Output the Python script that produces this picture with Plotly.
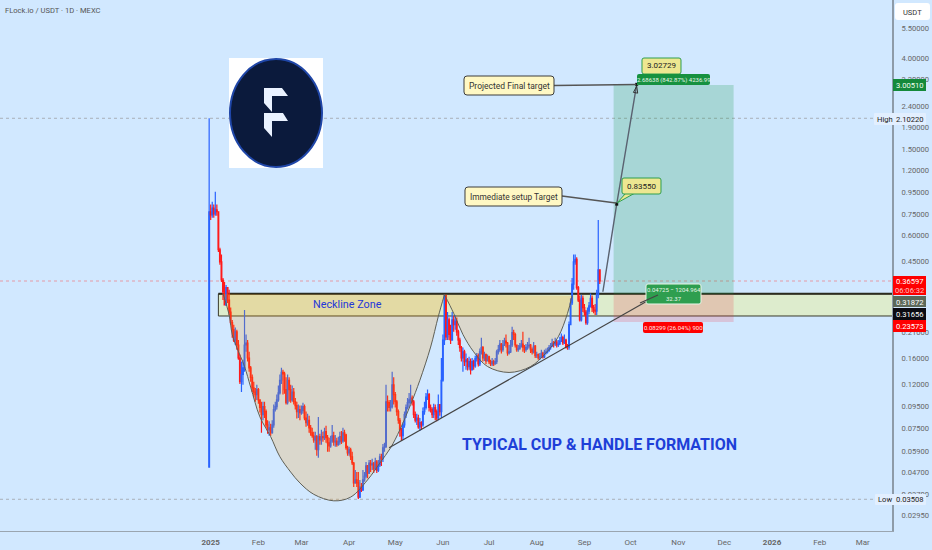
import datetime as dt
import plotly.graph_objects as go

W, H = 932, 550
PLOT_W, PLOT_H = 892, 531
BG = "#D1E8FF"

START_DATE = dt.date(2024, 12, 31)
CLOSES = [
 .770,.745,.800,.753,.785,.770,.512,.449,.370,.326,
 .283,.341,.298,.262,.234,.217,.194,.212,.184,.160,
 .124,.134,.144,.184,.188,.160,.144,.130,.116,.111,
 .108,.114,.102,.094,.087,.095,.090,.078,.074,.0756,
 .0717,.078,.092,.095,.102,.110,.126,.137,.135,.114,
 .099,.126,.114,.102,.111,.100,.096,.090,.092,.089,
 .091,.095,.084,.080,.082,.0756,.0717,.0694,.0663,.0687,
 .0597,.0687,.0663,.0687,.068,.0725,.068,.0643,.0623,.0656,
 .0694,.065,.0656,.063,.065,.0687,.0656,.0717,.070,.061,
 .0578,.0597,.0554,.0518,.0418,.0432,.0418,.0359,.040,.0387,
 .0432,.045,.0502,.0465,.0518,.0507,.0513,.0486,.0524,.048,
 .0507,.0554,.0542,.061,.0616,.100,.099,.094,.095,.120,
 .108,.100,.090,.082,.074,.0694,.078,.087,.094,.099,
 .102,.104,.100,.087,.082,.084,.0764,.080,.078,.090,
 .094,.105,.108,.094,.092,.087,.094,.090,.084,.097,
 .090,.126,.194,.313,.201,.241,.206,.194,.241,.229,
 .237,.212,.194,.179,.160,.171,.154,.157,.146,.154,
 .141,.154,.147,.159,.164,.150,.171,.179,.160,.166,
 .155,.162,.154,.150,.154,.150,.154,.171,.175,.186,
 .175,.184,.192,.188,.169,.171,.184,.210,.206,.184,
 .175,.177,.182,.186,.180,.175,.179,.182,.184,.175,
 .171,.182,.164,.166,.160,.162,.168,.162,.169,.171,
 .173,.179,.182,.188,.186,.190,.184,.186,.192,.199,
 .188,.194,.180,.180,.229,.289,.354,.449,.462,.341,
 .298,.241,.304,.275,.262,.234,.265,.280,.304,.275,
 .268,.265,.316,.413,.366]
HIGHS = [
 2.102,.833,.858,.833,.955,.833,.770,.523,.486,.378,
 .362,.351,.341,.333,.275,.241,.229,.222,.217,.194,
 .166,.154,.157,.268,.206,.194,.171,.147,.134,.124,
 .116,.120,.116,.102,.100,.100,.100,.092,.082,.081,
 .079,.082,.097,.100,.108,.119,.134,.144,.141,.138,
 .130,.134,.130,.120,.119,.116,.104,.100,.097,.096,
 .096,.099,.097,.090,.088,.086,.078,.0756,.0725,.0725,
 .070,.085,.0709,.074,.0725,.0756,.0772,.070,.068,.0694,
 .078,.0725,.070,.068,.0687,.0725,.073,.0756,.074,.0709,
 .0623,.0616,.061,.0585,.0524,.048,.047,.047,.0432,.0418,
 .048,.047,.0524,.0507,.0535,.0535,.0542,.0524,.0548,.0535,
 .0535,.0572,.0572,.0636,.0643,.120,.107,.102,.102,.138,
 .130,.111,.102,.092,.084,.0756,.080,.090,.097,.104,
 .110,.120,.107,.102,.090,.088,.087,.084,.081,.094,
 .100,.110,.114,.110,.097,.094,.098,.097,.092,.108,
 .097,.160,.206,.316,.316,.262,.247,.229,.262,.252,
 .254,.247,.217,.199,.182,.179,.175,.168,.160,.162,
 .159,.160,.157,.164,.169,.168,.177,.199,.182,.171,
 .168,.166,.164,.157,.160,.157,.160,.175,.184,.194,
 .188,.194,.199,.206,.190,.184,.194,.224,.217,.210,
 .184,.184,.188,.194,.212,.184,.186,.190,.199,.186,
 .179,.190,.184,.171,.168,.169,.175,.171,.175,.177,
 .179,.184,.188,.197,.192,.199,.194,.194,.201,.208,
 .203,.206,.197,.186,.237,.304,.378,.486,.486,.472,
 .347,.313,.316,.313,.286,.268,.275,.292,.320,.313,
 .283,.286,.333,.705,.413]
LOWS = [
 .0496,.705,.722,.722,.737,.737,.500,.436,.362,.298,
 .283,.280,.289,.254,.229,.199,.190,.184,.175,.157,
 .121,.111,.120,.138,.171,.154,.138,.124,.111,.105,
 .100,.102,.098,.089,.0717,.082,.084,.0756,.0709,.0694,
 .0694,.0709,.0756,.090,.092,.100,.108,.121,.108,.109,
 .097,.097,.100,.099,.100,.097,.092,.0835,.084,.082,
 .087,.088,.082,.0764,.0772,.0717,.0694,.068,.0643,.0597,
 .056,.0548,.063,.063,.065,.0663,.0643,.0585,.0585,.061,
 .0643,.0623,.0616,.0616,.0623,.063,.0636,.0643,.065,.0597,
 .056,.056,.0535,.0507,.040,.0414,.040,.0352,.0356,.0379,
 .0387,.0423,.044,.044,.046,.047,.048,.0465,.048,.0465,
 .047,.0496,.0502,.0524,.0585,.061,.090,.090,.090,.093,
 .097,.094,.086,.079,.0687,.0656,.0663,.0756,.084,.092,
 .094,.098,.096,.084,.080,.078,.0748,.073,.074,.0764,
 .087,.092,.102,.090,.089,.084,.084,.082,.081,.082,
 .086,.084,.124,.184,.194,.194,.194,.186,.199,.212,
 .217,.203,.184,.171,.154,.138,.147,.141,.140,.141,
 .134,.144,.141,.144,.154,.146,.147,.166,.154,.155,
 .150,.154,.150,.147,.147,.147,.149,.150,.166,.171,
 .168,.171,.182,.179,.164,.166,.169,.180,.194,.179,
 .171,.171,.175,.179,.171,.169,.171,.175,.177,.169,
 .166,.168,.160,.160,.157,.157,.160,.159,.160,.166,
 .168,.171,.175,.180,.179,.182,.179,.180,.184,.190,
 .184,.186,.177,.175,.175,.229,.283,.333,.436,.333,
 .292,.237,.237,.262,.252,.229,.229,.256,.275,.262,
 .259,.254,.254,.304,.354]
FIRST_OPEN = 0.0496

CUP_DATES = ["2025-01-09","2025-01-13","2025-01-15","2025-01-18","2025-01-23","2025-01-27","2025-02-02","2025-02-09",
             "2025-02-15","2025-02-22","2025-02-28","2025-03-09","2025-03-22","2025-04-02","2025-04-13","2025-04-21",
             "2025-04-28","2025-05-04","2025-05-11","2025-05-17","2025-05-24","2025-05-29","2025-06-02"]
CUP_VALUES = [.319,.254,.206,.179,.146,.117,.085,.0687,.0554,.047,.0418,.037,.0345,.0359,.0432,.0518,.061,.074,.097,.126,.180,.250,.316]
HANDLE_DATES = ["2025-06-02","2025-06-08","2025-06-14","2025-06-21","2025-06-30","2025-07-14","2025-07-28","2025-08-07","2025-08-15","2025-08-21","2025-08-24"]
HANDLE_VALUES = [.316,.2585,.206,.171,.146,.137,.146,.169,.201,.2585,.3125]
TREND_DATES = ["2025-04-27", "2025-10-19"]
TREND_VALUES = [.061, .316]
PATH_DATES = ["2025-09-13", "2025-09-22", "2025-10-05"]
PATH_VALUES = [.326, .8355, 3.02729]

Y_TICKS = [5.5,4,3.2,2.4,1.9,1.5,1.2,.95,.75,.6,.45,.21,.16,.12,.095,.075,.059,.047,.037,.0295]
X_TICK_DATES = ["2025-01-01","2025-02-01","2025-03-01","2025-04-01","2025-05-01","2025-06-01","2025-07-01","2025-08-01",
                "2025-09-01","2025-10-01","2025-11-01","2025-12-01","2026-01-01","2026-02-01","2026-03-01"]
X_TICK_TEXT = ["<b>2025</b>","Feb","Mar","Apr","May","Jun","Jul","Aug","Sep","Oct","Nov","Dec","<b>2026</b>","Feb","Mar"]

ENTRY, TARGET, STOP = 0.31656, 3.0051, 0.23573
ZONE_START, CHART_END = "2025-01-06", "2026-04-01"
ZONE_TOP, ZONE_BOTTOM = 0.31872, 0.2513
HIGH, LOW, LAST = 2.1022, 0.03508, 0.36597

dates = [(START_DATE + dt.timedelta(days=i)).isoformat() for i in range(len(CLOSES))]
opens = [FIRST_OPEN] + CLOSES[:-1]

FONT = "Roboto"
def px(x): return x / PLOT_W
def py(y): return 1 - y / PLOT_H

def rr(x0, y0, x1, y1, r=2):
    P = lambda a, b: f"{px(a):.5f},{py(b):.5f}"
    return (f"M{P(x0+r,y0)} L{P(x1-r,y0)} Q{P(x1,y0)} {P(x1,y0+r)} L{P(x1,y1-r)} Q{P(x1,y1)} {P(x1-r,y1)} "
            f"L{P(x0+r,y1)} Q{P(x0,y1)} {P(x0,y1-r)} L{P(x0,y0+r)} Q{P(x0,y0)} {P(x0+r,y0)} Z")

def poly(points):
    return "M" + " L".join(f"{px(a):.5f},{py(b):.5f}" for a, b in points) + " Z"

shapes, annos = [], []
def box(x0, y0, x1, y1, fill, line=None, r=2, lw=1, layer="above"):
    shapes.append(dict(type="path", xref="paper", yref="paper", path=rr(x0, y0, x1, y1, r), fillcolor=fill,
                       line=dict(color=line or fill, width=lw if line else 0), layer=layer))
def pg(points, fill, line=None):
    shapes.append(dict(type="path", xref="paper", yref="paper", path=poly(points), fillcolor=fill,
                       line=dict(color=line or fill, width=1 if line else 0), layer="above"))
def seg(x0, y0, x1, y1, color="#555555", w=1.3):
    shapes.append(dict(type="line", xref="paper", yref="paper", x0=px(x0), x1=px(x1), y0=py(y0), y1=py(y1),
                       line=dict(color=color, width=w), layer="above"))
def text(x, y, s, size=9, color="#333333", anchor="center", family=FONT):
    annos.append(dict(xref="paper", yref="paper", x=px(x), y=py(y), text=s, showarrow=False, xanchor=anchor, yanchor="middle",
                      font=dict(size=size, color=color, family=family), borderpad=0, borderwidth=0))

def data_rect(x0, x1, y0, y1, fill, line=None, lw=0):
    shapes.append(dict(type="rect", xref="x", yref="y", x0=x0, x1=x1, y0=y0, y1=y1, fillcolor=fill,
                       line=dict(color=line or fill, width=lw), layer="below"))
def hline(v, color, dash="dot", w=1):
    shapes.append(dict(type="line", xref="paper", yref="y", x0=0, x1=1, y0=v, y1=v, line=dict(color=color, width=w, dash=dash), layer="below"))

hline(HIGH, "#A9AFB8"); hline(LOW, "#A9AFB8"); hline(LAST, "#E59AA6")
data_rect(ZONE_START, CHART_END, ZONE_BOTTOM, ZONE_TOP, "rgba(250,245,90,0.30)", "#3A3A2A", 1)
shapes.append(dict(type="line", xref="x", yref="y", x0=ZONE_START, x1=CHART_END, y0=ZONE_TOP, y1=ZONE_TOP,
                   line=dict(color="#2B2B1E", width=2), layer="below"))
data_rect("2025-09-20", "2025-12-07", ENTRY, TARGET, "rgba(20,150,70,0.22)")
data_rect("2025-09-20", "2025-12-07", STOP, ENTRY, "rgba(242,54,69,0.20)")

fig = go.Figure()
CUP_STYLE = dict(mode="lines", fill="toself", fillcolor="rgba(255,152,0,0.20)", line=dict(color="#5F5F55", width=1, shape="spline"), hoverinfo="skip")
fig.add_trace(go.Scatter(x=CUP_DATES, y=CUP_VALUES, **CUP_STYLE))
fig.add_trace(go.Scatter(x=HANDLE_DATES, y=HANDLE_VALUES, **CUP_STYLE))
fig.add_trace(go.Candlestick(x=dates, open=opens, high=HIGHS, low=LOWS, close=CLOSES,
    increasing=dict(line=dict(color="#2962FF", width=1.2), fillcolor="#2962FF"),
    decreasing=dict(line=dict(color="#FF1A1A", width=1.2), fillcolor="#FF1A1A"), whiskerwidth=0))
fig.add_trace(go.Scatter(x=TREND_DATES, y=TREND_VALUES, mode="lines", line=dict(color="#444444", width=1.2)))
fig.add_trace(go.Scatter(x=PATH_DATES, y=PATH_VALUES, mode="lines", line=dict(color="#5A6270", width=1.4)))
fig.add_trace(go.Scatter(x=PATH_DATES[1:], y=PATH_VALUES[1:], mode="markers", marker=dict(color="#111111", size=3, symbol="square")))
fig.add_trace(go.Scatter(x=PATH_DATES[2:], y=[PATH_VALUES[2] * 0.98], mode="markers",
                         marker=dict(symbol="arrow-open", size=7, angle=10, color="#333333", line=dict(color="#333333", width=1))))

# logo
shapes.append(dict(type="rect", xref="paper", yref="paper", x0=px(229), x1=px(323), y0=py(168), y1=py(58), fillcolor="white", line=dict(width=0), layer="above"))
shapes.append(dict(type="circle", xref="paper", yref="paper", x0=px(230), x1=px(322), y0=py(167), y1=py(59), fillcolor="#0B1A3C", line=dict(color="#1F46A8", width=2), layer="above"))
pg([(264,88),(282,88),(288,96),(272,96),(272,112),(264,103)], "#EAF2FF")
pg([(264,113),(283,113),(288,121),(272,121),(272,137),(264,128)], "#EAF2FF")

# callouts
seg(554, 85.5, 636, 84.5); seg(562, 196, 616, 203)
box(464, 76, 554, 95, "#FFF8C4", "#3C3C3C", 3, 1)
text(509, 86, "Projected Final target", 8.5)
box(465, 187, 562, 206, "#FFF8C4", "#3C3C3C", 3, 1)
text(513.5, 197, "Immediate setup Target", 8.3)
pg([(645,73),(654,73),(637,85)], "#EDE791", "#2E9E4F")
box(642, 58, 681, 74, "#EDE791", "#2E9E4F", 2, 1)
text(661.5, 66, "3.02729", 8, "#222222")
box(637, 74, 710, 85, "#16913F")
text(673.5, 79.5, "2.68638 (842.87%) 4236.99", 6, "#E8F5E8")
pg([(626,193),(635,193),(617,203)], "#EDE791", "#2E9E4F")
box(622, 178, 661, 194, "#EDE791", "#2E9E4F", 2, 1)
text(641.5, 186, "0.83550", 8, "#222222")
box(646, 284, 701, 304, "#2E9E4F", "#E8F5E8", 2, 1)
text(673.5, 289.5, "0.04725 − 1204.964", 6, "#E8F5E8")
text(673.5, 298.5, "32.37", 6, "#E8F5E8")
seg(640, 303, 658, 295, "#444444", 1.2)
box(643, 322, 703, 333, "#FF0000")
text(673, 327.5, "0.08299 (26.04%) 900", 6, "#FFE8E8")

text(5, 11, "FLock.io / USDT · 1D · MEXC", 7.6, "#555555", "left")
text(347.5, 304, "Neckline Zone", 10.8, "#2337D8")
text(599.5, 444, "<b>TYPICAL CUP &amp; HANDLE FORMATION</b>", 16, "#1E3FD8")

# right scale furniture
box(895, 3, 930, 20, "#FFFFFF", None, 3)
text(912.5, 12, "USDT", 7.5, "#333333")
TAG = 7.6
box(893, 79, 926, 91, "#14893A", None, 0)
text(909.5, 85, "3.00510", TAG, "#F0FFF0")
box(874, 113, 926, 125, "#E2EFFF", None, 1)
text(877, 119, "High", TAG, "#222222", "left")
text(909.5, 119, "2.10220", TAG, "#222222")
box(893, 276, 926, 295, "#FF0000", None, 0)
text(909.5, 281, "0.36597", TAG, "#FFFFFF")
text(909.5, 290, "06:06:32", TAG, "#FFC0C0")
box(893, 296, 926, 307, "#5C6858", None, 0)
text(909.5, 302, "0.31872", TAG, "#FFFFFF")
box(893, 308, 926, 320, "#0B0B12", None, 0)
text(909.5, 314, "0.31656", TAG, "#FFFFFF")
box(893, 320, 926, 332, "#FF0000", None, 0)
text(909.5, 326, "0.23573", TAG, "#FFFFFF")
box(875, 494, 926, 505, "#E2EFFF", None, 1)
text(878, 500, "Low", TAG, "#222222", "left")
text(909.5, 500, "0.03508", TAG, "#222222")

fig.update_layout(
    width=W, height=H, margin=dict(l=0, r=W - PLOT_W, t=0, b=H - PLOT_H, pad=0, autoexpand=False),
    paper_bgcolor=BG, plot_bgcolor=BG, showlegend=False, shapes=shapes, annotations=annos,
    font=dict(family=FONT, size=9, color="#666666"),
    xaxis=dict(type="date", range=["2024-08-17", "2026-03-20"], rangeslider=dict(visible=False), showgrid=False, zeroline=False,
               tickvals=X_TICK_DATES, ticktext=X_TICK_TEXT, ticks="outside", ticklen=3, tickcolor="rgba(0,0,0,0)",
               showline=True, linecolor="#9AA5B0", linewidth=1, tickangle=0, tickfont=dict(size=8, color="#666666")),
    yaxis=dict(type="log", range=[-1.603, 0.8745], side="right", showgrid=False, zeroline=False,
               tickvals=Y_TICKS, ticktext=[f"{v:.5f}" for v in Y_TICKS], ticks="outside", ticklen=6, tickcolor="rgba(0,0,0,0)",
               showline=True, linecolor="#8E9BA8", linewidth=2, tickfont=dict(size=7.6, color="#666666")),
)
fig.write_html("out.html", config=dict(displayModeBar=False, responsive=False),
               post_script="document.body.style.margin='0';document.documentElement.style.background='" + BG + "';")
